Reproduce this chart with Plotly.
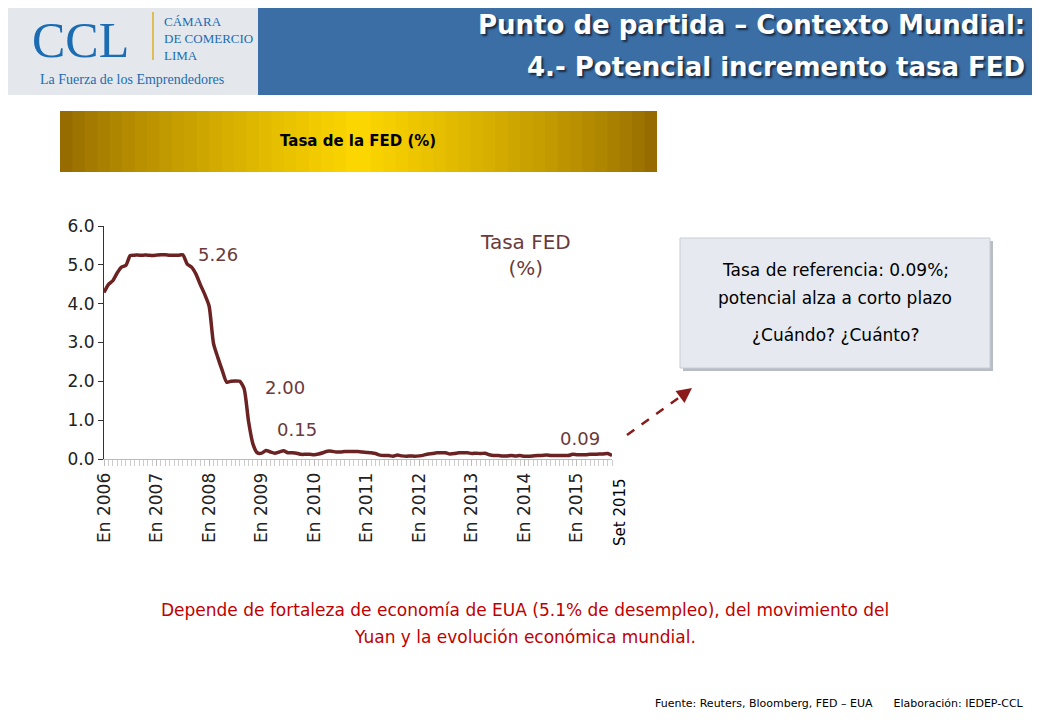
import plotly.graph_objects as go

years = list(range(2006, 2016))
tick_labels = [f"En {y}" for y in years]
fed_rate = [
 4.29,4.49,4.59,4.79,4.94,4.99,5.24,5.25,5.25,5.25,5.25,5.24,
 5.25,5.26,5.26,5.25,5.25,5.25,5.26,5.02,4.94,4.76,4.49,4.24,
 3.94,2.98,2.61,2.28,1.98,2.00,2.01,2.00,1.81,0.97,0.39,0.16,
 0.15,0.22,0.18,0.15,0.18,0.21,0.16,0.16,0.15,0.12,0.12,0.12,
 0.11,0.13,0.16,0.20,0.20,0.18,0.18,0.19,0.19,0.19,0.19,0.18,
 0.17,0.16,0.14,0.10,0.09,0.09,0.07,0.10,0.08,0.07,0.08,0.07,
 0.08,0.10,0.13,0.14,0.16,0.16,0.16,0.13,0.14,0.16,0.16,0.16,
 0.14,0.15,0.14,0.15,0.11,0.09,0.09,0.08,0.08,0.09,0.08,0.09,
 0.07,0.07,0.08,0.09,0.09,0.10,0.09,0.09,0.09,0.09,0.09,0.12,
 0.11,0.11,0.11,0.12,0.12,0.13,0.13,0.14,0.09]
months = list(range(len(fed_rate)))

OFF = 8  # page body margin
W, H = 1040 - OFF, 720 - OFF
def px(x): return (x - OFF) / W
def py(y): return 1 - (y - OFF) / H

fig = go.Figure(go.Scatter(x=months, y=fed_rate, mode="lines",
    line=dict(color="#6b2222", width=3.5, shape="spline", smoothing=0.6), hoverinfo="skip"))

shapes = [
    dict(type="rect", xref="paper", yref="paper", x0=px(258), x1=px(1045), y0=py(95), y1=py(0),
         fillcolor="#3a6ea5", line_width=0, layer="below"),
    dict(type="rect", xref="paper", yref="paper", x0=px(0), x1=px(258), y0=py(95), y1=py(0),
         fillcolor="#e4e8ec", line_width=0, layer="below"),
    dict(type="line", xref="paper", yref="paper", x0=px(153), x1=px(153), y0=py(60), y1=py(12),
         line=dict(color="#e0b020", width=1.5)),
]
# gold gradient bar
c_edge, c_mid = (150, 108, 0), (252, 214, 0)
n = 24
x0, x1 = 60, 657
step = (x1 - x0) / (2 * n)
for i in range(n):
    f = (i / (n - 1)) ** 0.8
    c = tuple(int(a + (b - a) * f) for a, b in zip(c_edge, c_mid))
    shapes.append(dict(type="rect", xref="paper", yref="paper", x0=px(x0 + i * step), x1=px(x1 - i * step),
                       y0=py(172), y1=py(111), fillcolor="rgb(%d,%d,%d)" % c, line_width=0, layer="below"))
shapes += [
    dict(type="rect", xref="paper", yref="paper", x0=px(683), x1=px(993), y0=py(371), y1=py(241),
         fillcolor="#b8bcc4", line_width=0, layer="below"),
    dict(type="rect", xref="paper", yref="paper", x0=px(680), x1=px(990), y0=py(368), y1=py(238),
         fillcolor="#e6eaf0", line=dict(color="#c8ccd4", width=1), layer="below"),
    dict(type="line", xref="paper", yref="paper", x0=px(627), y0=py(435), x1=px(688), y1=py(391),
         line=dict(color="#8b1a1a", width=2.5, dash="dash")),
]

ann = [dict(x=px(692), y=py(388), ax=-12, ay=9, xref="paper", yref="paper",
            text="", showarrow=True, arrowhead=2, arrowsize=1.2, arrowwidth=2.5, arrowcolor="#8b1a1a")]

def t(x, y, text, size, color="black", anchor="center", fam="DejaVu Sans", **kw):
    ann.append(dict(x=px(x), y=py(y), xref="paper", yref="paper", text=text, showarrow=False,
                    xanchor=anchor, yanchor="middle", font=dict(size=size, color=color, family=fam), **kw))

shadow = "2px 2px 2px #1a2a40"
ann.append(dict(x=px(1027), y=py(25), xref="paper", yref="paper", showarrow=False, xanchor="right",
                yanchor="middle", text="<b>Punto de partida – Contexto Mundial:</b>",
                font=dict(size=26, color="white", family="DejaVu Sans", shadow=shadow)))
ann.append(dict(x=px(1027), y=py(67), xref="paper", yref="paper", showarrow=False, xanchor="right",
                yanchor="middle", text="<b>4.- Potencial incremento tasa FED</b>",
                font=dict(size=26, color="white", family="DejaVu Sans", shadow=shadow)))
t(80, 40, "CCL", 50, "#1c6cb4", fam="Liberation Serif")
t(162, 22, "CÁMARA", 13, "#1c6cb4", "left", fam="Liberation Serif")
t(162, 39, "DE COMERCIO", 13, "#1c6cb4", "left", fam="Liberation Serif")
t(162, 56, "LIMA", 13, "#1c6cb4", "left", fam="Liberation Serif")
t(132, 79, "La Fuerza de los Emprendedores", 14, "#1c6cb4", fam="Liberation Serif")
t(358, 141, "<b>Tasa de la FED (%)</b>", 15)
t(835, 270, "Tasa de referencia: 0.09%;", 17)
t(835, 298, "potencial alza a corto plazo", 17)
t(835, 335, "¿Cuándo? ¿Cuánto?", 17)
t(525, 255, "Tasa FED<br>(%)", 20, "#6b3a3a")
t(218, 254, "5.26", 18, "#6b3a3a")
t(285, 387, "2.00", 18, "#6b3a3a")
t(297, 430, "0.15", 18, "#6b3a3a")
t(580, 438, "0.09", 18, "#6b3a3a")
t(620, 512, "Set 2015", 15, textangle=-90)
t(525, 610, "Depende de fortaleza de economía de EUA (5.1% de desempleo), del movimiento del", 17, "#c00000")
t(525, 637, "Yuan y la evolución económica mundial.", 17, "#c00000")
t(1026, 703, "Fuente: Reuters, Bloomberg, FED – EUA      Elaboración: IEDEP-CCL", 11, "black", "right")

fig.update_layout(
    width=W, height=H, margin=dict(l=0, r=0, t=0, b=0, autoexpand=False),
    paper_bgcolor="white", plot_bgcolor="white", showlegend=False,
    shapes=shapes, annotations=ann,
    xaxis=dict(domain=[px(104), px(612)], range=[0, 116], tickvals=[12*i for i in range(len(years))],
               ticktext=tick_labels, tickangle=-90, showgrid=False, zeroline=False, automargin=False,
               showline=True, linecolor="#bbb", ticks="outside", ticklen=6, tickcolor="#bbb",
               minor=dict(dtick=1, ticks="outside", ticklen=6, tickcolor="#ccc"),
               tickfont=dict(size=17, color="#222", family="DejaVu Sans")),
    yaxis=dict(domain=[py(459), py(226)], range=[0, 6], dtick=1, tickformat=".1f", automargin=False,
               showgrid=False, zeroline=False, showline=True, linecolor="#333", ticks="outside",
               ticklen=5, tickcolor="#333", tickfont=dict(size=17, color="#222", family="DejaVu Sans")),
)
fig.write_html("out.html")
